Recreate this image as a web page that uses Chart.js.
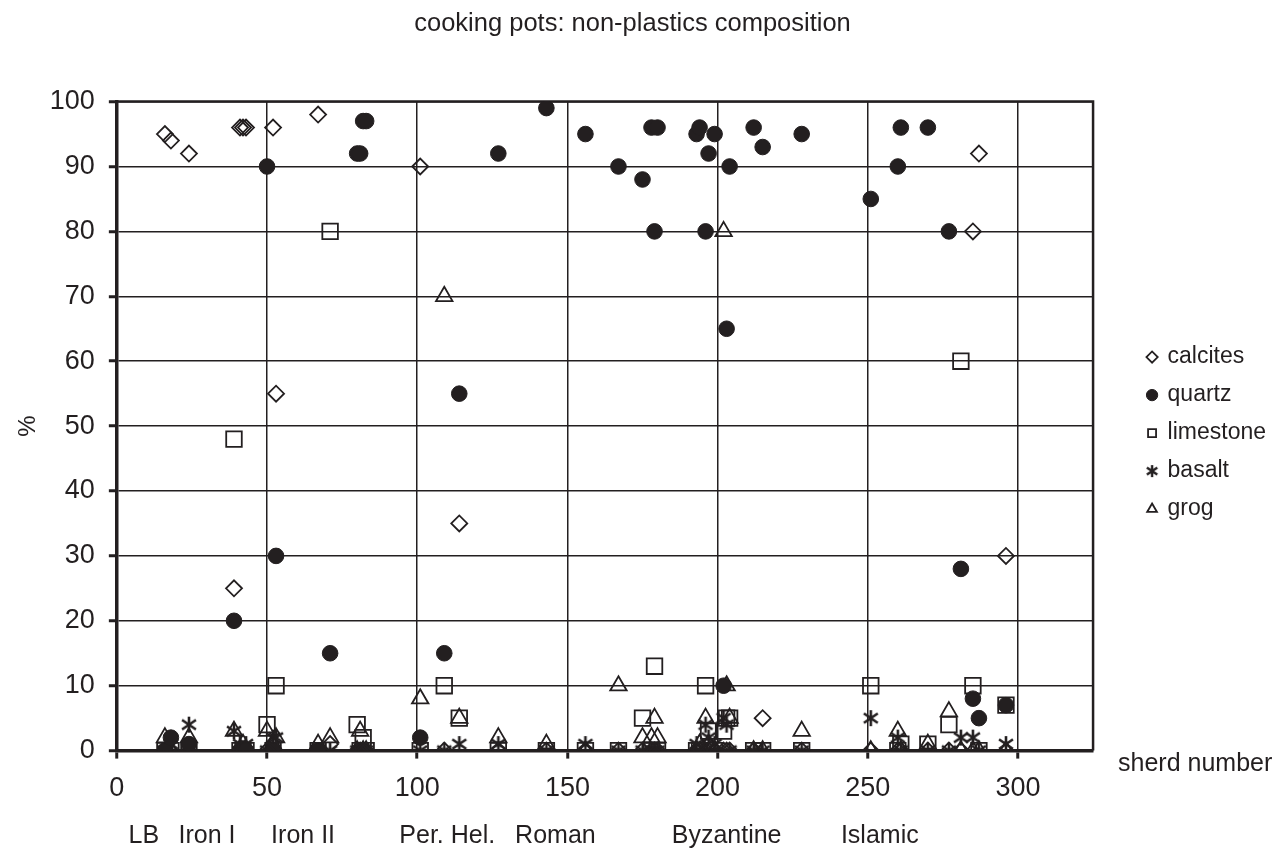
<!DOCTYPE html>
<html>
<head>
<meta charset="utf-8">
<script src="https://cdn.jsdelivr.net/npm/chart.js@4.4.0/dist/chart.umd.min.js"></script>
<style>
  html, body { margin: 0; padding: 0; background: #fff; }
</style>
</head>
<body>
<canvas id="chart" width="1279" height="850"></canvas>
<script>
// sherd numbers and % of each non-plastic component
const sherds    = [16, 18, 24, 39, 41, 42, 43, 50, 52, 53, 67, 71, 80, 81, 82, 83, 101, 109, 114, 127, 143, 156, 167, 175, 178, 179, 180, 193, 194, 196, 197, 199, 202, 203, 204, 212, 215, 228, 251, 260, 261, 270, 277, 281, 285, 287, 296];
const calcites  = [95, 94, 92, 25, 96, 96, 96,  0, 96, 55, 98,  1,  0,  0,  0,  0,  90,   0,  35,   0,   0,   0,   0,   0,   0,   0,   0,   0,   0,   0,   0,   0,   0,   0,   0,   0,   5,   0,   0,   0,   0,   0,   0,   0,  80,  92,  30];
const quartz    = [ 0,  2,  1, 20,  0,  0,  0, 90,  0, 30,  0, 15, 92, 92, 97, 97,   2,  15,  55,  92,  99,  95,  90,  88,  96,  80,  96,  95,  96,  80,  92,  95,  10,  65,  90,  96,  93,  95,  85,  90,  96,  96,  80,  28,   8,   5,   7];
const limestone = [ 0,  0,  0, 48,  0,  0,  0,  4,  0, 10,  0, 80,  4,  0,  2,  0,   0,  10,   5,   0,   0,   0,   0,   5,   0,  13,   0,   0,   0,  10,   3,   0,   3,   5,   5,   0,   0,   0,  10,   0,   1,   1,   4,  60,  10,   0,   7];
const basalt    = [ 0,  1,  4,  3,  1,  0,  1,  0,  2,  2,  0,  0,  0,  0,  0,  0,   0,   0,   1,   1,   0,   1,   0,   0,   0,   0,   0,   1,   0,   4,   2,   1,   5,   4,   0,   0,   0,   0,   5,   2,   0,   0,   0,   2,   2,   0,   1];
const grog      = [ 2,  0,  2,  3,  0,  1,  0,  3,  1,  2,  1,  2,  0,  3,  0,  0,   8,  70,   5,   2,   1,   0,  10,   2,   2,   5,   2,   0,   1,   5,   1,   0,  80,  10,   5,   0,   0,   3,   0,   3,   0,   1,   6,   0,   0,   0,   0];

const xTicks = [0, 50, 100, 150, 200, 250, 300];
const periodLabels    = ['LB', 'Iron I', 'Iron II', 'Per. Hel.', 'Roman', 'Byzantine', 'Islamic'];
const periodPositions = [9, 30, 62, 110, 146, 203, 254];

const ink = '#231f20';
const font = '"Liberation Sans", Arial, sans-serif';

// six-spoke asterisk used for basalt
function asterisk(size, lw) {
    const c = document.createElement('canvas');
    c.width = size; c.height = size;
    const g = c.getContext('2d');
    const m = size / 2, r = size / 2 - 1;
    g.strokeStyle = ink;
    g.lineWidth = lw;
    g.beginPath();
    g.moveTo(m, m - r); g.lineTo(m, m + r);
    g.moveTo(m - r * 0.87, m - r * 0.6); g.lineTo(m + r * 0.87, m + r * 0.6);
    g.moveTo(m + r * 0.87, m - r * 0.6); g.lineTo(m - r * 0.87, m + r * 0.6);
    g.stroke();
    return c;
}
const starBig = asterisk(18, 2.6);
const starSmall = asterisk(14, 2.4);

const pts = vals => sherds.map((s, i) => ({ x: s, y: vals[i] }));

const plotFrame = {
    id: 'plotFrame',
    beforeInit(chart) {
        // widen the legend column a bit so the plot stops where the original does
        const legend = chart.legend;
        const fit = legend.fit;
        legend.fit = function () { fit.call(this); this.width += 17; };
    },
    afterLayout(chart) {
        // push the legend entries right, leaving a gap after the plot frame
        const lg = chart.legend;
        lg.left += 40; lg.right += 40;
        lg.top += 7; lg.bottom += 7;
    },
    beforeDatasetsDraw(chart) {
        const { ctx, chartArea: a } = chart;
        ctx.save();
        ctx.strokeStyle = ink;
        ctx.lineWidth = 2.5;
        ctx.beginPath();
        ctx.moveTo(a.left, a.top);
        ctx.lineTo(a.right, a.top);
        ctx.lineTo(a.right, a.bottom);
        ctx.stroke();
        ctx.restore();
    },
    afterDraw(chart) {
        const { ctx, chartArea: a } = chart;
        ctx.save();
        ctx.fillStyle = ink;
        ctx.font = '25px ' + font;
        ctx.textBaseline = 'middle';
        ctx.fillText('sherd number', a.right + 25, a.bottom + 14);
        ctx.restore();
    }
};

new Chart(document.getElementById('chart'), {
    type: 'scatter',
    data: {
        datasets: [
            { label: 'calcites', data: pts(calcites), pointStyle: 'rectRot', radius: 8, backgroundColor: 'transparent', borderColor: ink, borderWidth: 1.8 },
            { label: 'quartz', data: pts(quartz), pointStyle: 'circle', radius: 7.8, backgroundColor: ink, borderColor: ink, borderWidth: 1 },
            { label: 'limestone', data: pts(limestone), pointStyle: 'rect', radius: 11, backgroundColor: 'transparent', borderColor: ink, borderWidth: 1.8 },
            { label: 'basalt', data: pts(basalt), pointStyle: starBig, radius: 8, backgroundColor: ink, borderColor: ink, borderWidth: 1.8 },
            { label: 'grog', data: pts(grog), pointStyle: 'triangle', radius: 9.5, backgroundColor: 'transparent', borderColor: ink, borderWidth: 1.8 }
        ]
    },
    options: {
        responsive: false,
        animation: false,
        events: [],
        layout: { padding: { left: 12, right: 26, top: 0, bottom: -3 } },
        scales: {
            x: {
                type: 'linear',
                min: 0,
                max: 325,
                afterBuildTicks: scale => { scale.ticks = xTicks.map(v => ({ value: v })); },
                grid: { color: ink, lineWidth: 1.5, tickLength: 8, tickWidth: 3, tickColor: ink },
                border: { color: ink, width: 3.5 },
                ticks: { color: ink, font: { family: font, size: 27 }, padding: 14, maxRotation: 0 }
            },
            period: {
                type: 'linear',
                position: 'bottom',
                weight: 1,
                min: 0,
                max: 325,
                afterBuildTicks: scale => { scale.ticks = periodPositions.map(v => ({ value: v })); },
                grid: { display: false, drawTicks: false },
                border: { display: false },
                ticks: {
                    color: ink,
                    font: { family: font, size: 25 },
                    padding: 2,
                    autoSkip: false,
                    maxRotation: 0,
                    callback: (v, i) => periodLabels[i]
                }
            },
            y: {
                min: 0,
                max: 100,
                ticks: { stepSize: 10, color: ink, font: { family: font, size: 27 }, padding: 14 },
                grid: { color: ink, lineWidth: 1.5, tickLength: 8, tickWidth: 3, tickColor: ink },
                border: { color: ink, width: 3.5 },
                title: { display: true, text: '%', color: ink, font: { family: font, size: 24 }, padding: { top: 2, bottom: -7 } }
            }
        },
        plugins: {
            title: {
                display: true,
                text: 'cooking pots: non-plastics composition',
                color: ink,
                font: { family: font, size: 25.5, weight: 'normal' },
                padding: { top: 9, bottom: 62 }
            },
            legend: {
                position: 'right',
                fullSize: false,
                labels: {
                    usePointStyle: true,
                    boxWidth: 8,
                    boxHeight: 8,
                    padding: 15,
                    color: ink,
                    font: { family: font, size: 23 },
                    generateLabels: chart => Chart.defaults.plugins.legend.labels.generateLabels(chart).map(item => {
                        if (item.text === 'basalt') item.pointStyle = starSmall;
                        return item;
                    })
                }
            },
            tooltip: { enabled: false }
        }
    },
    plugins: [plotFrame]
});
</script>
</body>
</html>
